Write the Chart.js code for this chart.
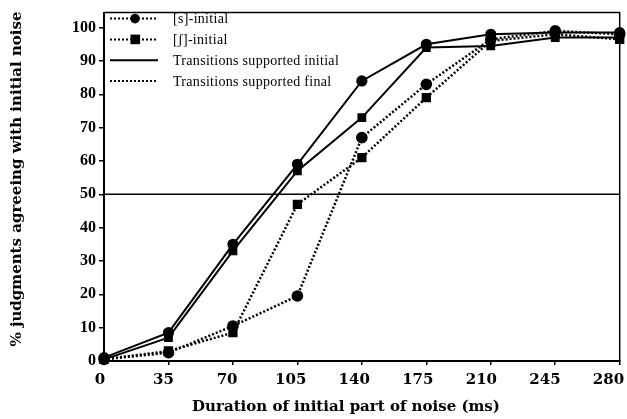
<!DOCTYPE html>
<html>
<head>
<meta charset="utf-8">
<script src="https://cdn.jsdelivr.net/npm/chart.js@4.4.1/dist/chart.umd.min.js"></script>
<style>
  html, body { margin: 0; padding: 0; background: #fff; }
  #wrap { width: 627px; height: 419px; position: relative; }
</style>
</head>
<body>
<div id="wrap"><canvas id="chart"></canvas></div>
<script>
// durations of the initial part of the noise (ms)
const durations = [0, 35, 70, 105, 140, 175, 210, 245, 280];

// % judgments agreeing with initial noise
const sInitialTransInitial = [1, 8.5, 35, 59, 84, 95, 98, 98.5, 98.5];
const shInitialTransInitial = [0.5, 7, 33, 57, 73, 94, 94.5, 97, 97];
const sInitialTransFinal = [0.5, 2.5, 10.5, 19.5, 67, 83, 96.5, 99, 98];
const shInitialTransFinal = [0.5, 3, 8.5, 47, 61, 79, 96, 98, 96.5];

const yTicks = [0, 10, 20, 30, 40, 50, 60, 70, 80, 90, 100];
const chanceLevel = 50;
const xTitle = "Duration of initial part of noise (ms)";
const yTitle = "% judgments agreeing with initial noise";

const legendItems = [
  { text: "[s]-initial", marker: "circle", dash: [2, 2] },
  { text: "[\u0283]-initial", marker: "rect", dash: [2, 2] },
  { text: "Transitions supported initial", marker: null, dash: [] },
  { text: "Transitions supported final", marker: null, dash: [2, 2] },
];

function toPoints(values) {
  return durations.map((d, i) => ({ x: d, y: values[i] }));
}

function series(values, marker, dash) {
  return {
    data: toPoints(values),
    borderColor: "#000",
    backgroundColor: "#000",
    borderWidth: dash.length ? 2.5 : 2,
    borderDash: dash,
    pointStyle: marker,
    pointRadius: marker === "rect" ? 4.8 : 4.6,
    pointBackgroundColor: "#000",
    pointBorderColor: "#000",
    tension: 0,
    clip: false,
  };
}

// frame, legend, x labels and titles (the scan's labels sit a bit inside the ticks)
const frameAndLegend = {
  id: "frameAndLegend",
  afterDraw(chart) {
    const { ctx, chartArea: a } = chart;
    const xScale = chart.scales.x;
    ctx.save();
    ctx.strokeStyle = "#000";
    ctx.lineWidth = 1.5;
    ctx.beginPath();
    ctx.moveTo(a.left, a.top);
    ctx.lineTo(a.right, a.top);
    ctx.lineTo(a.right, a.bottom);
    ctx.stroke();

    const x0 = a.left + 6;
    const x1 = a.left + 54;
    let y = a.top + 6;
    ctx.font = "14px 'Liberation Serif'";
    ctx.letterSpacing = "0.3px";
    ctx.textBaseline = "middle";
    ctx.fillStyle = "#000";
    legendItems.forEach((item) => {
      ctx.lineWidth = 2;
      ctx.setLineDash(item.dash);
      ctx.beginPath();
      ctx.moveTo(x0, y);
      ctx.lineTo(x1, y);
      ctx.stroke();
      ctx.setLineDash([]);
      if (item.marker === "circle") {
        ctx.beginPath();
        ctx.arc(a.left + 31, y, 4.8, 0, Math.PI * 2);
        ctx.fill();
      } else if (item.marker === "rect") {
        ctx.fillRect(a.left + 26.5, y - 4.8, 9.6, 9.6);
      }
      ctx.fillText(item.text, a.left + 69, y + 1);
      y += 20.8;
    });
    ctx.letterSpacing = "0px";

    // x tick labels
    ctx.font = "bold 15px 'DejaVu Serif'";
    ctx.textAlign = "center";
    durations.forEach((v) => {
      const px = xScale.getPixelForValue(v);
      const lx = a.left - 4 + (px - a.left) * 0.986;
      ctx.fillText(String(v), lx, 380);
    });

    // x title
    ctx.font = "bold 15px 'DejaVu Serif'";
    ctx.fillText(xTitle, 346, 407);

    // y title
    ctx.translate(17, 179);
    ctx.rotate(-Math.PI / 2);
    ctx.font = "bold 15px 'DejaVu Serif'";
    ctx.fillText(yTitle, 0, 0);
    ctx.restore();
  },
};

new Chart(document.getElementById("chart"), {
  type: "line",
  data: {
    datasets: [
      series(sInitialTransInitial, "circle", []),
      series(shInitialTransInitial, "rect", []),
      series(sInitialTransFinal, "circle", [2, 2]),
      series(shInitialTransFinal, "rect", [2, 2]),
      {
        data: [{ x: durations[0], y: chanceLevel }, { x: durations[durations.length - 1], y: chanceLevel }],
        borderColor: "#000",
        borderWidth: 1.5,
        pointRadius: 0,
      },
    ],
  },
  options: {
    responsive: true,
    maintainAspectRatio: false,
    animation: false,
    layout: { padding: { left: 0, top: 12, right: 7, bottom: 0 } },
    plugins: { legend: { display: false }, tooltip: { enabled: false } },
    scales: {
      x: {
        type: "linear",
        min: 0,
        max: 280,
        afterBuildTicks(scale) {
          scale.ticks = durations.map((v) => ({ value: v }));
        },
        afterFit(scale) {
          scale.height = 58;
          scale.paddingRight = 0;
          scale.paddingLeft = 0;
        },
        grid: { drawOnChartArea: false, tickLength: 4, color: "#000", lineWidth: 1.5 },
        border: { color: "#000", width: 2 },
        ticks: { display: false },
      },
      y: {
        min: 0,
        max: 104.5,
        afterBuildTicks(scale) {
          scale.ticks = yTicks.map((v) => ({ value: v }));
        },
        afterFit(scale) { scale.width = 104; },
        grid: { drawOnChartArea: false, tickLength: 5, color: "#000", lineWidth: 1.5 },
        border: { color: "#000", width: 2 },
        ticks: {
          color: "#000",
          padding: 3,
          font: { family: "'Liberation Serif'", size: 16, weight: "bold" },
        },
      },
    },
  },
  plugins: [frameAndLegend],
});
</script>
</body>
</html>
